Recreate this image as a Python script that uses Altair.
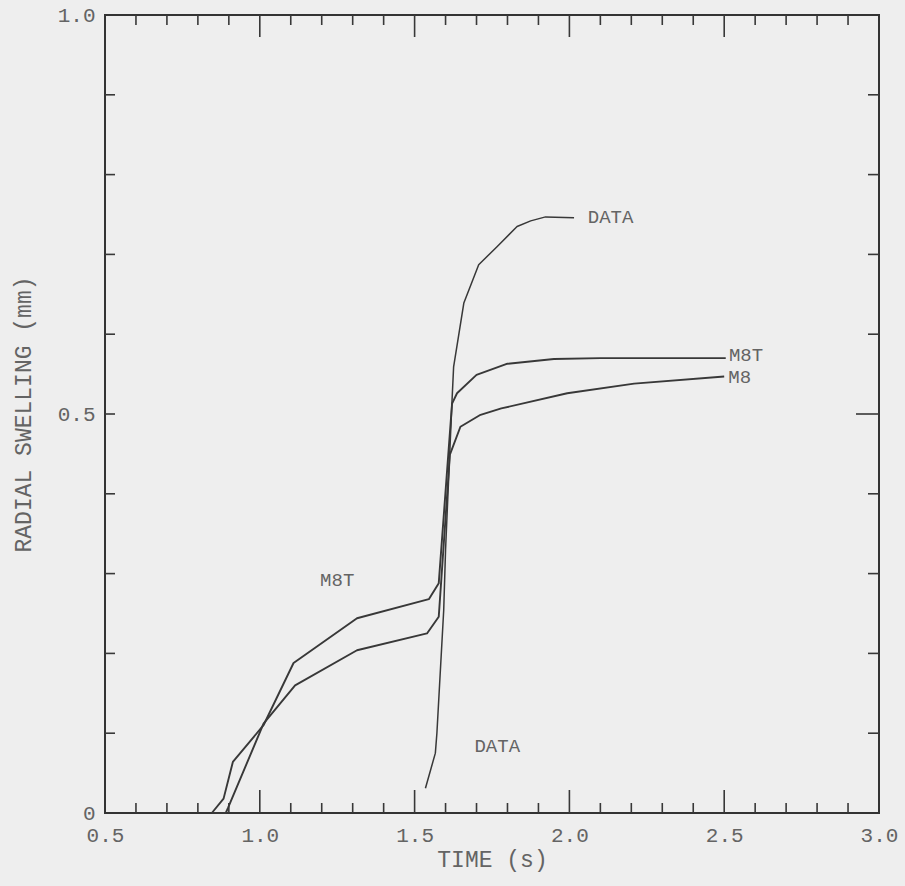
import altair as alt
import pandas as pd

# ---- data ----
m8t_t = [0.845, 0.883, 0.913, 1.012, 1.109, 1.314, 1.546, 1.578, 1.621, 1.637, 1.70, 1.80, 1.95, 2.10, 2.505]
m8t_v = [0.0, 0.018, 0.064, 0.110, 0.188, 0.244, 0.268, 0.288, 0.513, 0.526, 0.549, 0.563, 0.569, 0.570, 0.570]

m8_t = [0.845, 0.890, 0.897, 1.012, 1.114, 1.314, 1.540, 1.578, 1.614, 1.648, 1.713, 1.78, 1.993, 2.209, 2.500]
m8_v = [0.0, 0.0, 0.006, 0.112, 0.160, 0.204, 0.225, 0.246, 0.449, 0.484, 0.499, 0.507, 0.526, 0.538, 0.547]

data_t = [1.535, 1.567, 1.572, 1.594, 1.600, 1.621, 1.626, 1.659, 1.707, 1.767, 1.831, 1.875, 1.923, 2.015]
data_v = [0.031, 0.075, 0.100, 0.254, 0.330, 0.518, 0.559, 0.639, 0.687, 0.710, 0.735, 0.742, 0.747, 0.746]

label_text = ["DATA", "M8T", "M8", "M8T", "DATA"]
label_t = [2.056, 2.512, 2.510, 1.250, 1.690]
label_v = [0.747, 0.574, 0.546, 0.292, 0.084]
label_align = ["left", "left", "left", "center", "left"]

x_label_values = [0.5, 1.0, 1.5, 2.0, 2.5, 3.0]
y_label_values = [0.0, 0.5, 1.0]
x_minor_ticks = [0.6, 0.7, 0.8, 0.9, 1.1, 1.2, 1.3, 1.4, 1.6, 1.7, 1.8, 1.9,
                 2.1, 2.2, 2.3, 2.4, 2.6, 2.7, 2.8, 2.9]
x_major_ticks = [1.0, 1.5, 2.0, 2.5]
y_minor_ticks = [0.1, 0.2, 0.3, 0.4, 0.6, 0.7, 0.8, 0.9]
y_major_ticks = [0.5]

# ---- styling ----
W, H = 774, 798
FONT = "Liberation Mono"
TXT = "#646464"
LINE = "#383838"
BG = "#eeeeee"

xs = alt.Scale(domain=[0.5, 3.0], nice=False, zero=False)
ys = alt.Scale(domain=[0, 1.0], nice=False)


def series(ts, vs, name):
    return pd.DataFrame({"t": ts, "v": vs, "i": range(len(ts)), "series": name})


def line_layer(df, width):
    return alt.Chart(df).mark_line(color=LINE, strokeWidth=width, strokeJoin="round").encode(
        x=alt.X("t:Q", scale=xs,
                axis=alt.Axis(values=x_label_values, format=".1f", title="TIME (s)",
                              ticks=False, tickSize=0, domain=False, grid=False,
                              labelFlush=False, labelPadding=11, titlePadding=3)),
        y=alt.Y("v:Q", scale=ys,
                axis=alt.Axis(values=y_label_values, title="RADIAL SWELLING (mm)",
                              labelExpr="datum.value == 0 ? '0' : format(datum.value, '.1f')",
                              ticks=False, tickSize=0, domain=False, grid=False,
                              labelPadding=10, titlePadding=22)),
        order="i:Q",
    )


base_axis_x = alt.X("t:Q", scale=xs)
base_axis_y = alt.Y("v:Q", scale=ys)

l_m8t = line_layer(series(m8t_t, m8t_v, "M8T"), 1.9)
l_m8 = line_layer(series(m8_t, m8_v, "M8"), 1.9)
l_data = line_layer(series(data_t, data_v, "DATA"), 1.5)

left_idx = [i for i in range(len(label_text)) if label_align[i] == "left"]
center_idx = [i for i in range(len(label_text)) if label_align[i] == "center"]

labels_left = alt.Chart(pd.DataFrame({"text": [label_text[i] for i in left_idx],
                                      "t": [label_t[i] for i in left_idx],
                                      "v": [label_v[i] for i in left_idx]})).mark_text(
    font=FONT, fontSize=19, color=TXT, baseline="middle", align="left", dx=1
).encode(x=base_axis_x, y=base_axis_y, text="text:N")

labels_center = alt.Chart(pd.DataFrame({"text": [label_text[i] for i in center_idx],
                                        "t": [label_t[i] for i in center_idx],
                                        "v": [label_v[i] for i in center_idx]})).mark_text(
    font=FONT, fontSize=19, color=TXT, baseline="middle", align="center"
).encode(x=base_axis_x, y=base_axis_y, text="text:N")

xminor = pd.DataFrame({"t": x_minor_ticks})
xmajor = pd.DataFrame({"t": x_major_ticks})
yminor = pd.DataFrame({"v": y_minor_ticks})
ymajor = pd.DataFrame({"v": y_major_ticks})
yall = pd.DataFrame({"v": y_minor_ticks + y_major_ticks})

tk = dict(color=LINE, strokeWidth=1.6)

ticks = [
    # bottom
    alt.Chart(xminor).mark_rule(**tk).encode(x=base_axis_x, y=alt.value(H), y2=alt.value(H - 10)),
    alt.Chart(xmajor).mark_rule(**tk).encode(x=base_axis_x, y=alt.value(H), y2=alt.value(H - 23)),
    # top
    alt.Chart(xminor).mark_rule(**tk).encode(x=base_axis_x, y=alt.value(0), y2=alt.value(10)),
    alt.Chart(xmajor).mark_rule(**tk).encode(x=base_axis_x, y=alt.value(0), y2=alt.value(22)),
    # left
    alt.Chart(yall).mark_rule(**tk).encode(y=base_axis_y, x=alt.value(0), x2=alt.value(10)),
    # right
    alt.Chart(yminor).mark_rule(**tk).encode(y=base_axis_y, x=alt.value(W), x2=alt.value(W - 11)),
    alt.Chart(ymajor).mark_rule(**tk).encode(y=base_axis_y, x=alt.value(W), x2=alt.value(W - 23)),
]

chart = alt.layer(l_m8t, l_m8, l_data, *ticks, labels_left, labels_center).properties(
    width=W, height=H,
    autosize=alt.AutoSizeParams(type="none"),
    padding={"left": 105, "top": 15, "right": 26, "bottom": 73},
    background=BG,
).configure_view(
    stroke="#333333", strokeWidth=2
).configure_axis(
    labelFont=FONT, titleFont=FONT, labelFontSize=21, titleFontSize=23,
    labelColor=TXT, titleColor=TXT, titleFontWeight="normal",
)

chart.save("out.html", embed_options={"renderer": "svg", "actions": False})
